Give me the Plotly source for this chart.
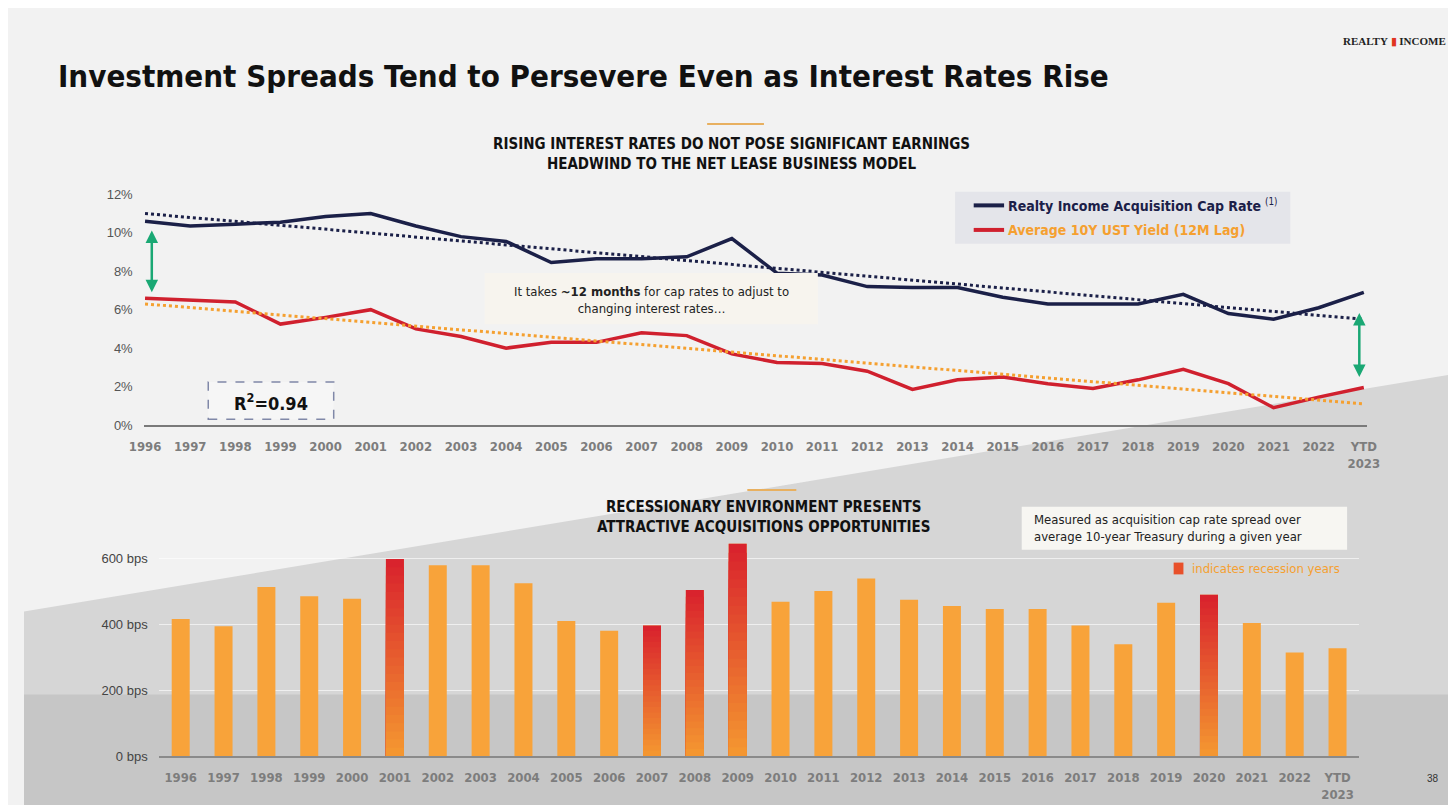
import plotly.graph_objects as go

years = [str(y) for y in range(1996, 2023)] + ["YTD<br>2023"]
cap_rate = [10.6, 10.35, 10.45, 10.55, 10.85, 11.0, 10.35, 9.8, 9.55, 8.45, 8.65, 8.65, 8.75, 9.7,
            7.9, 7.8, 7.2, 7.15, 7.15, 6.65, 6.3, 6.3, 6.3, 6.8, 5.8, 5.5, 6.1, 6.9]
ust_yield = [6.6, 6.5, 6.4, 5.25, 5.6, 6.0, 5.0, 4.6, 4.0, 4.3, 4.3, 4.8, 4.65, 3.7,
             3.25, 3.2, 2.8, 1.85, 2.35, 2.5, 2.15, 1.9, 2.35, 2.9, 2.15, 0.9, 1.45, 1.95]
cap_trend_ends = [11.0, 5.5]
ust_trend_ends = [6.3, 1.1]
spread_bps = [416, 394, 513, 485, 477, 598, 579, 579, 524, 410, 380, 396, 504, 644,
              468, 501, 539, 474, 455, 446, 446, 396, 339, 465, 489, 404, 314, 327]
recession = ["2001", "2007", "2008", "2009", "2020"]

NAVY = "#1b2048"
RED = "#d0202e"
ORANGE = "#f8a33a"
COND = "DejaVu Sans Condensed, Liberation Sans, sans-serif"
fig = go.Figure()

fig.add_trace(go.Scatter(x=years, y=cap_rate, mode="lines", line=dict(color=NAVY, width=3.5),
                         xaxis="x", yaxis="y"))
fig.add_trace(go.Scatter(x=years, y=ust_yield, mode="lines", line=dict(color=RED, width=3.5),
                         xaxis="x", yaxis="y"))
fig.add_trace(go.Scatter(x=[years[0], years[-1]], y=cap_trend_ends, mode="lines",
                         line=dict(color=NAVY, width=3, dash="dot"), xaxis="x", yaxis="y"))
fig.add_trace(go.Scatter(x=[years[0], years[-1]], y=ust_trend_ends, mode="lines",
                         line=dict(color="#f5a030", width=3, dash="dot"), xaxis="x", yaxis="y"))

fig.add_trace(go.Bar(x=years, y=spread_bps, marker=dict(color=ORANGE, line=dict(width=0)),
                     width=0.42, xaxis="x2", yaxis="y2"))
rec_x = [y for y in years if y in recession]
rec_v = [v for y, v in zip(years, spread_bps) if y in recession]
n = 24
c0 = (217, 35, 45)
c1 = (244, 150, 48)
for i in range(n):
    t = i / (n - 1)
    c = "rgb(%d,%d,%d)" % tuple(round(a + (b - a) * t) for a, b in zip(c0, c1))
    fig.add_trace(go.Bar(x=rec_x, y=[v * (1 - i / n) for v in rec_v], marker=dict(color=c, line=dict(width=0)),
                         width=0.42, xaxis="x2", yaxis="y2"))

tickfont = dict(family=COND, size=13, color="#7d7d7d", weight="bold")
fig.update_layout(
    width=1456, height=805, margin=dict(l=0, r=0, t=0, b=0),
    paper_bgcolor="#f2f2f2", plot_bgcolor="rgba(0,0,0,0)", showlegend=False, barmode="overlay",
    xaxis=dict(domain=[0.0843, 0.941], type="category", categoryorder="array", categoryarray=years,
               showgrid=False, showline=True, linecolor="#7a7a7a", linewidth=2, tickfont=tickfont,
               ticks="outside", ticklen=8, tickcolor="rgba(0,0,0,0)", anchor="y"),
    yaxis=dict(domain=[0.481, 0.773], range=[0, 12], tickvals=[0, 2, 4, 6, 8, 10, 12],
               ticktext=["0%", "2%", "4%", "6%", "8%", "10%", "12%"], showgrid=False, zeroline=False,
               ticks="outside", ticklen=8, tickcolor="rgba(0,0,0,0)",
               tickfont=dict(family="Liberation Sans, Arial", size=13, color="#555"), anchor="x"),
    xaxis2=dict(domain=[0.0948, 0.9355], type="category", categoryorder="array", categoryarray=years,
                showgrid=False, showline=True, linecolor="#8a8a8a", linewidth=2, tickfont=tickfont,
                ticks="outside", ticklen=8, tickcolor="rgba(0,0,0,0)", anchor="y2"),
    yaxis2=dict(domain=[0.062, 0.354], range=[0, 700], tickvals=[0, 200, 400, 600],
                ticktext=["0 bps", "200 bps", "400 bps", "600 bps"], showgrid=True,
                gridcolor="rgba(255,255,255,0.6)", zeroline=False,
                ticks="outside", ticklen=8, tickcolor="rgba(0,0,0,0)",
                tickfont=dict(family="Liberation Sans, Arial", size=13, color="#444"), anchor="x2"),
)

shapes = [
    dict(type="path", xref="paper", yref="paper", layer="below",
         path="M 0 0 L 0 0.245 L 1 0.545 L 1 0 Z", fillcolor="#d6d6d6", line=dict(width=0)),
    dict(type="rect", xref="paper", yref="paper", layer="below", x0=0, x1=1, y0=0, y1=0.14,
         fillcolor="#c6c6c6", line=dict(width=0)),
    dict(type="line", xref="paper", yref="paper", x0=697/1456, x1=755/1456, y0=1-111/805, y1=1-111/805,
         line=dict(color="#e8b060", width=2)),
    dict(type="line", xref="paper", yref="paper", x0=738/1456, x1=788/1456, y0=1-484/805, y1=1-484/805,
         line=dict(color="#e8b060", width=2)),
    dict(type="rect", xref="paper", yref="paper", x0=950/1456, x1=1292/1456, y0=1-233/805, y1=1-180/805,
         fillcolor="#e4e5ea", line=dict(width=0)),
    dict(type="line", xref="paper", yref="paper", x0=969/1456, x1=1000/1456, y0=1-194/805, y1=1-194/805,
         line=dict(color=NAVY, width=4)),
    dict(type="line", xref="paper", yref="paper", x0=969/1456, x1=1000/1456, y0=1-219/805, y1=1-219/805,
         line=dict(color=RED, width=4)),
    dict(type="rect", xref="paper", yref="paper", x0=188/1456, x1=316/1456, y0=1-412/805, y1=1-374/805,
         fillcolor="rgba(255,255,255,0.3)", line=dict(color="#8088a8", width=1.5, dash="dash")),
    dict(type="rect", xref="paper", yref="paper", x0=470/1456, x1=810/1456, y0=1-315/805, y1=1-263/805,
         fillcolor="#f7f4ee", line=dict(width=0)),
    dict(type="rect", xref="paper", yref="paper", x0=1018/1456, x1=1350/1456, y0=1-545/805, y1=1-501/805,
         fillcolor="#f7f6f2", line=dict(width=0)),
    dict(type="rect", xref="paper", yref="paper", x0=1173/1456, x1=1183/1456, y0=1-570/805, y1=1-558/805,
         fillcolor="#e8502a", line=dict(width=0)),
]
fig.update_layout(shapes=shapes)

ann = [
    dict(text="<b>Investment Spreads Tend to Persevere Even as Interest Rates Rise</b>", x=33/1456, y=1-62/805,
         xanchor="left", font=dict(family=COND, size=31, color="#111")),
    dict(text="<b>REALTY</b> <span style='color:#e0351f'>▮</span> <b>INCOME</b>", x=1398/1456, y=1-27/805,
         font=dict(family="Liberation Serif, serif", size=11, color="#222")),
    dict(text="<b>RISING INTEREST RATES DO NOT POSE SIGNIFICANT EARNINGS<br>HEADWIND TO THE NET LEASE BUSINESS MODEL</b>",
         x=722/1456, y=1-142/805, font=dict(family=COND, size=15, color="#111")),
    dict(text="<b>RECESSIONARY ENVIRONMENT PRESENTS<br>ATTRACTIVE ACQUISITIONS OPPORTUNITIES</b>",
         x=755/1456, y=1-512/805, font=dict(family=COND, size=15, color="#111")),
    dict(text="<b>Realty Income Acquisition Cap Rate</b> <sup>(1)</sup>", x=1002/1456, y=1-194/805, xanchor="left",
         font=dict(family=COND, size=14, color=NAVY)),
    dict(text="<b>Average 10Y UST Yield (12M Lag)</b>", x=1002/1456, y=1-219/805, xanchor="left",
         font=dict(family=COND, size=14, color="#f5a030")),
    dict(text="It takes <b>~12 months</b> for cap rates to adjust to<br>changing interest rates…",
         x=640/1456, y=1-290/805, font=dict(family=COND, size=13, color="#222")),
    dict(text="<b>R<sup>2</sup>=0.94</b>", x=252/1456, y=1-394/805,
         font=dict(family=COND, size=18, color="#111")),
    dict(text="Measured as acquisition cap rate spread over<br>average 10-year Treasury during a given year",
         x=1028/1456, y=1-523/805, xanchor="left", align="left",
         font=dict(family=COND, size=13, color="#222")),
    dict(text="indicates recession years", x=1190/1456, y=1-564/805, xanchor="left",
         font=dict(family=COND, size=13, color="#f5a030")),
    dict(text="38", x=1438/1456, y=1-778/805, font=dict(family="Liberation Sans, Arial", size=10, color="#333")),
]
for a in ann:
    a.setdefault("xref", "paper"); a.setdefault("yref", "paper"); a["showarrow"] = False
    a.setdefault("xanchor", "center"); a.setdefault("yanchor", "middle")
fig.update_layout(annotations=ann)

for xv, y0, y1 in [(0.15, 10.2, 6.9), (26.9, 5.9, 2.5)]:
    fig.add_annotation(x=xv, y=y1, ax=xv, ay=y0, xref="x", yref="y", axref="x", ayref="y",
                       showarrow=True, arrowhead=2, startarrowhead=2, arrowside="end+start",
                       arrowwidth=2.5, arrowcolor="#1aa874", arrowsize=1, text="")

fig.write_html("out.html")
